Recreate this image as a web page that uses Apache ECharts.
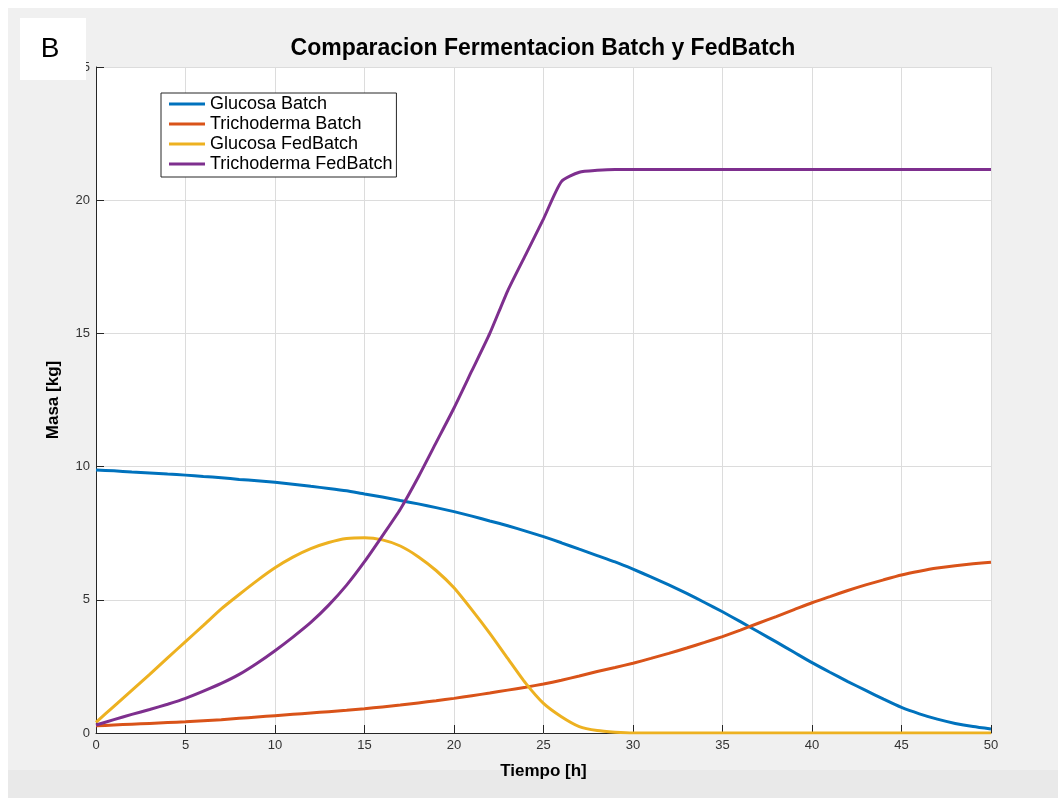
<!DOCTYPE html>
<html>
<head>
<meta charset="utf-8">
<script src="https://cdn.jsdelivr.net/npm/echarts@6/dist/echarts.min.js"></script>
<style>
  html, body { margin: 0; padding: 0; background: #ffffff; }
  #wrap { position: relative; width: 1058px; height: 798px; overflow: hidden; }
  #panel { position: absolute; left: 8px; top: 8px; right: 0; bottom: 0; background: #f0f0f0; }
  #strip { position: absolute; left: 8px; top: 770px; right: 0; bottom: 0; background: #e9e9e9; }
  #main { position: absolute; left: 0; top: 0; width: 1058px; height: 798px; }
</style>
</head>
<body>
<div id="wrap">
  <div id="panel"></div>
  <div id="strip"></div>
  <div id="main"></div>
</div>
<script>
// tiempo [h]
const tiempo = [0,1,2,3,4,5,6,7,8,9,10,11,12,13,14,15,16,17,18,19,20,21,22,23,24,25,
  26,27,28,29,30,31,32,33,34,35,36,37,38,39,40,41,42,43,44,45,46,47,48,49,50];

const glucosaBatch = [9.87,9.84,9.80,9.76,9.72,9.68,9.63,9.58,9.52,9.47,9.41,9.34,9.26,9.18,9.09,8.97,
  8.86,8.73,8.60,8.46,8.31,8.14,7.96,7.78,7.58,7.37,7.14,6.90,6.66,6.42,6.15,5.86,5.56,5.24,4.90,4.55,
  4.18,3.80,3.42,3.03,2.64,2.28,1.93,1.60,1.27,0.96,0.72,0.52,0.36,0.24,0.15];

const trichodermaBatch = [0.27,0.30,0.33,0.36,0.39,0.42,0.46,0.50,0.55,0.60,0.65,0.70,0.75,0.80,0.85,0.91,
  0.98,1.05,1.13,1.21,1.30,1.40,1.50,1.61,1.72,1.84,1.98,2.14,2.31,2.46,2.62,2.80,2.99,3.19,3.40,3.62,
  3.86,4.12,4.37,4.63,4.89,5.12,5.35,5.56,5.75,5.93,6.07,6.19,6.28,6.35,6.41];

const glucosaFed = [0.40,1.00,1.60,2.20,2.82,3.43,4.04,4.66,5.20,5.72,6.20,6.60,6.92,7.15,7.30,7.33,
  7.25,7.02,6.62,6.10,5.45,4.62,3.74,2.80,1.87,1.11,0.61,0.24,0.09,0.03,0,0,0,0,0,0,
  0,0,0,0,0,0,0,0,0,0,0,0,0,0,0];

const trichodermaFed = [0.30,0.50,0.70,0.88,1.08,1.30,1.57,1.86,2.20,2.62,3.09,3.60,4.15,4.80,5.55,6.43,
  7.40,8.40,9.60,10.90,12.20,13.60,15.00,16.60,17.95,19.30,20.70,21.05,21.12,21.15,21.15,21.15,21.15,21.15,21.15,21.15,
  21.15,21.15,21.15,21.15,21.15,21.15,21.15,21.15,21.15,21.15,21.15,21.15,21.15,21.15,21.15];

const nombres = ['Glucosa Batch', 'Trichoderma Batch', 'Glucosa FedBatch', 'Trichoderma FedBatch'];
const colores = ['#0072BD', '#D95319', '#EDB120', '#7E2F8E'];
const valores = [glucosaBatch, trichodermaBatch, glucosaFed, trichodermaFed];

const myChart = echarts.init(document.getElementById('main'), null, { renderer: 'canvas' });
const fuente = 'Liberation Sans, Arial, Helvetica, sans-serif';

const series = valores.map((vals, i) => ({
  name: nombres[i],
  type: 'line',
  symbol: 'none',
  smooth: 0.2,
  data: tiempo.map((t, k) => [t, vals[k]]),
  lineStyle: { color: colores[i], width: 3 },
  itemStyle: { color: colores[i] },
  z: 3 + i
}));

const option = {
  backgroundColor: 'transparent',
  animation: false,
  textStyle: { fontFamily: fuente },
  title: {
    text: 'Comparacion Fermentacion Batch y FedBatch',
    left: 538,
    textAlign: 'center',
    top: 32,
    textStyle: { fontSize: 23, fontWeight: 'bold', color: '#000', fontFamily: fuente }
  },
  grid: {
    left: 96, right: 67, top: 67, bottom: 65,
    show: true, backgroundColor: '#ffffff', borderWidth: 0
  },
  legend: {
    orient: 'vertical',
    left: 161, top: 93,
    padding: [1, 4, 3, 8],
    itemWidth: 36, itemHeight: 3, itemGap: 0,
    icon: 'rect',
    backgroundColor: '#ffffff',
    borderColor: '#262626', borderWidth: 1, borderRadius: 0,
    textStyle: { fontSize: 18, color: '#000', fontFamily: fuente, lineHeight: 20 },
    data: nombres
  },
  xAxis: {
    type: 'value', min: 0, max: 50, interval: 5,
    name: 'Tiempo [h]', nameLocation: 'middle', nameGap: 30,
    nameTextStyle: { fontSize: 17, fontWeight: 'bold', color: '#000', fontFamily: fuente },
    axisLine: { show: true, onZero: false, lineStyle: { color: '#262626', width: 1 } },
    axisTick: { show: true, inside: true, length: 8, lineStyle: { color: '#262626' } },
    axisLabel: { fontSize: 13, color: '#333', margin: 6, fontFamily: fuente },
    splitLine: { show: true, lineStyle: { color: '#dcdcdc', width: 1 } }
  },
  yAxis: {
    type: 'value', min: 0, max: 25, interval: 5,
    name: 'Masa [kg]', nameLocation: 'middle', nameGap: 34,
    nameTextStyle: { fontSize: 17, fontWeight: 'bold', color: '#000', fontFamily: fuente },
    axisLine: { show: true, onZero: false, lineStyle: { color: '#262626', width: 1 } },
    axisTick: { show: true, inside: true, length: 8, lineStyle: { color: '#262626' } },
    axisLabel: { fontSize: 13, color: '#333', margin: 6, fontFamily: fuente },
    splitLine: { show: true, lineStyle: { color: '#dcdcdc', width: 1 } }
  },
  graphic: [
    {
      type: 'rect', z: 100, silent: true,
      shape: { x: 20, y: 18, width: 66, height: 62 },
      style: { fill: '#ffffff' }
    },
    {
      type: 'text', z: 101, silent: true,
      style: { x: 50, y: 49, text: 'B', fontSize: 28, fontFamily: fuente, fill: '#000', align: 'center', verticalAlign: 'middle' }
    }
  ],
  series: series
};

myChart.setOption(option);
</script>
</body>
</html>
